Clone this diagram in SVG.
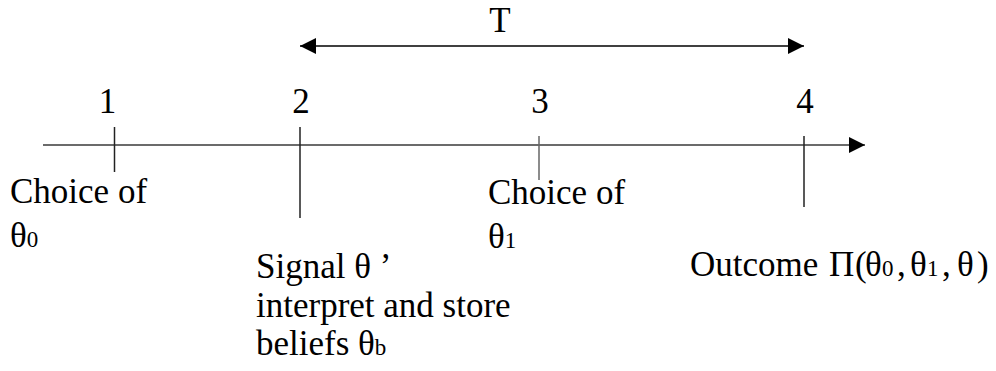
<svg xmlns="http://www.w3.org/2000/svg" width="996" height="371" viewBox="0 0 996 371" font-family="'Liberation Serif', 'DejaVu Serif', serif">
<style>
text{font-family:'Liberation Serif','DejaVu Serif',serif;font-size:35px;fill:#000}
.sub{font-size:23px}
.axis{stroke:#6b6b6b;stroke-width:2;fill:none}
.tick{stroke:#222;stroke-width:1.5;fill:none}
.span{stroke:#000;stroke-width:1.6;fill:none}
</style>
<defs>
<marker id="ah" markerWidth="16" markerHeight="16" refX="16" refY="8" orient="auto-start-reverse" markerUnits="userSpaceOnUse">
<path d="M0,0 L16,8 L0,16 Z" fill="#000"/>
</marker>
</defs>
<rect width="996" height="371" fill="#fff"/>
<g id="connectors">
<line class="axis" x1="43" y1="145" x2="865" y2="145" marker-end="url(#ah)"/>
<line class="span" x1="300" y1="46" x2="804" y2="46" marker-start="url(#ah)" marker-end="url(#ah)"/>
</g>
<g id="label-T"><text x="500" y="32" text-anchor="middle">T</text></g>
<g id="event1">
<line class="tick" x1="114.5" y1="127" x2="114.5" y2="172"/>
<text x="107.5" y="113" text-anchor="middle">1</text>
<text x="10" y="203">Choice of</text>
<text x="10" y="247">θ<tspan class="sub">0</tspan></text>
</g>
<g id="event2">
<line class="tick" x1="300" y1="127" x2="300" y2="218"/>
<text x="301" y="113" text-anchor="middle">2</text>
<text x="256" y="278">Signal θ ’</text>
<text x="256" y="317">interpret and store</text>
<text x="256" y="355">beliefs θ<tspan class="sub">b</tspan></text>
</g>
<g id="event3">
<line class="tick" x1="539" y1="136" x2="539" y2="180" style="stroke:#666"/>
<text x="540" y="113" text-anchor="middle">3</text>
<text x="488" y="204">Choice of</text>
<text x="488" y="248">θ<tspan class="sub">1</tspan></text>
</g>
<g id="event4">
<line class="tick" x1="804" y1="136" x2="804" y2="207"/>
<text x="805" y="113" text-anchor="middle">4</text>
<text x="690" y="276">Outcome <tspan x="829">Π</tspan><tspan x="855">(</tspan><tspan x="865">θ</tspan><tspan class="sub" x="882">0</tspan><tspan x="897">,</tspan><tspan x="910">θ</tspan><tspan class="sub" x="927">1</tspan><tspan x="942">,</tspan><tspan x="957">θ</tspan><tspan x="977">)</tspan></text>
</g>
</svg>
